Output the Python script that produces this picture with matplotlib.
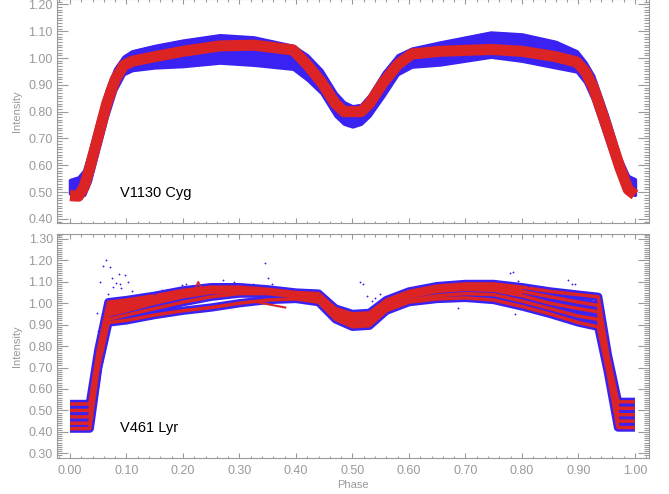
import numpy as np
import matplotlib.pyplot as plt
from matplotlib.ticker import MultipleLocator

plt.rcParams['font.family'] = ['Liberation Sans', 'DejaVu Sans']

# colours
BLUE = '#3a22f2'
RED = '#dc2424'
GREY = '#9a9a9a'

# ---- V1130 Cyg (top panel) ----
phase1 = [0.000, 0.015, 0.025, 0.035, 0.050, 0.065, 0.080, 0.095, 0.110, 0.150,
          0.200, 0.265, 0.325, 0.395, 0.420, 0.445, 0.470, 0.485, 0.500, 0.515,
          0.530, 0.555, 0.580, 0.605, 0.655, 0.745, 0.800, 0.860, 0.897, 0.912,
          0.926, 0.950, 0.973, 0.988, 1.000]
model1 = [0.487, 0.485, 0.520, 0.590, 0.710, 0.830, 0.920, 0.972, 0.988, 1.005,
          1.025, 1.045, 1.048, 1.030, 0.975, 0.910, 0.830, 0.800, 0.800, 0.800,
          0.830, 0.910, 0.975, 1.015, 1.025, 1.032, 1.025, 1.005, 0.985, 0.950,
          0.893, 0.744, 0.594, 0.510, 0.490]
obs1_hi = [0.545, 0.555, 0.580, 0.650, 0.770, 0.880, 0.960, 1.005, 1.025, 1.045,
           1.065, 1.085, 1.077, 1.045, 1.010, 0.955, 0.870, 0.835, 0.820, 0.825,
           0.860, 0.945, 1.010, 1.035, 1.058, 1.095, 1.088, 1.060, 1.025, 0.985,
           0.935, 0.790, 0.630, 0.560, 0.548]
obs1_lo = [0.495, 0.490, 0.490, 0.540, 0.660, 0.780, 0.880, 0.940, 0.955, 0.965,
           0.970, 0.983, 0.975, 0.960, 0.920, 0.870, 0.785, 0.755, 0.745, 0.755,
           0.785, 0.860, 0.940, 0.968, 0.976, 1.005, 0.990, 0.965, 0.950, 0.910,
           0.845, 0.695, 0.557, 0.500, 0.490]

# ---- V461 Lyr (bottom panel) ----
phase2 = [0.000, 0.035, 0.050, 0.068, 0.100, 0.150, 0.200, 0.250, 0.300, 0.350,
          0.400, 0.440, 0.470, 0.500, 0.530, 0.560, 0.600, 0.650, 0.700, 0.750,
          0.800, 0.850, 0.900, 0.935, 0.952, 0.970, 1.000]
curve_a = [0.530, 0.530, 0.780, 1.005, 1.015, 1.035, 1.060, 1.075, 1.075, 1.065,
           1.050, 1.045, 0.975, 0.950, 0.955, 1.015, 1.055, 1.080, 1.090, 1.090,
           1.075, 1.055, 1.040, 1.030, 0.760, 0.540, 0.540]
curve_b = [0.500, 0.500, 0.750, 0.965, 0.985, 1.020, 1.045, 1.060, 1.065, 1.055,
           1.040, 1.030, 0.960, 0.935, 0.940, 1.000, 1.040, 1.065, 1.075, 1.075,
           1.055, 1.030, 1.005, 0.990, 0.740, 0.510, 0.510]
curve_c = [0.470, 0.470, 0.730, 0.945, 0.965, 1.000, 1.030, 1.050, 1.055, 1.050,
           1.035, 1.025, 0.945, 0.915, 0.920, 0.990, 1.030, 1.055, 1.065, 1.060,
           1.035, 1.000, 0.975, 0.960, 0.720, 0.480, 0.480]
curve_d = [0.440, 0.440, 0.710, 0.925, 0.945, 0.975, 1.005, 1.030, 1.045, 1.045,
           1.030, 1.015, 0.935, 0.900, 0.905, 0.975, 1.015, 1.035, 1.045, 1.040,
           1.010, 0.975, 0.940, 0.925, 0.700, 0.450, 0.450]
curve_e = [0.415, 0.415, 0.700, 0.910, 0.920, 0.945, 0.965, 0.980, 1.000, 1.015,
           1.020, 1.005, 0.925, 0.890, 0.895, 0.965, 1.005, 1.020, 1.025, 1.015,
           0.985, 0.950, 0.910, 0.890, 0.680, 0.420, 0.420]
curves2 = [curve_a, curve_b, curve_c, curve_d, curve_e]

# stray observed points
out_phase = [0.063, 0.059, 0.070, 0.053, 0.075, 0.086, 0.097, 0.081, 0.088, 0.103,
             0.068, 0.077, 0.091, 0.109, 0.127, 0.150, 0.162, 0.198, 0.047, 0.050,
             0.062, 0.206, 0.271, 0.290, 0.307, 0.324, 0.345, 0.351, 0.357, 0.514,
             0.519, 0.525, 0.534, 0.540, 0.549, 0.687, 0.779, 0.785, 0.793, 0.802,
             0.811, 0.788, 0.882, 0.888, 0.894, 0.926]
out_int = [1.200, 1.175, 1.167, 1.100, 1.120, 1.136, 1.133, 1.094, 1.089, 1.097,
           1.045, 1.077, 1.070, 1.058, 1.045, 1.045, 1.061, 1.086, 0.956, 0.870,
           0.995, 1.092, 1.108, 1.100, 1.089, 1.092, 1.186, 1.120, 1.089, 1.100,
           1.089, 1.034, 1.011, 1.026, 1.042, 0.980, 1.143, 1.148, 1.105, 1.089,
           1.081, 0.951, 1.108, 1.089, 1.089, 1.050]
stray_phase = [0.319, 0.381]
stray_int = [1.011, 0.980]
spike_phase = [0.220, 0.227, 0.234]
spike_int = [1.060, 1.100, 1.062]

fig = plt.figure(figsize=(6.69, 4.94), dpi=100)
ax1 = fig.add_axes([0.0852, 0.5486, 0.885, 0.4534])
ax2 = fig.add_axes([0.0852, 0.0729, 0.885, 0.4534])


def style(ax, ylo, yhi):
    ax.set_xlim(-0.023, 1.025)
    ax.set_ylim(ylo, yhi)
    ax.xaxis.set_major_locator(MultipleLocator(0.1))
    ax.xaxis.set_minor_locator(MultipleLocator(0.02))
    ax.yaxis.set_major_locator(MultipleLocator(0.1))
    ax.yaxis.set_minor_locator(MultipleLocator(0.01))
    ax.yaxis.set_major_formatter(lambda v, p: f'{v:.2f}')
    ax.xaxis.set_major_formatter(lambda v, p: f'{v:.2f}')
    ax.tick_params(which='both', direction='in', top=True, right=True,
                   colors=GREY, labelcolor=GREY, labelsize=9, width=0.8)
    ax.tick_params(axis='y', which='major', length=8, pad=3)
    ax.tick_params(axis='y', which='minor', length=3.5)
    ax.tick_params(axis='x', which='major', length=3.5, pad=5)
    ax.tick_params(axis='x', which='minor', length=1.8)
    for s in ax.spines.values():
        s.set_color(GREY)
        s.set_linewidth(0.8)
    ax.set_ylabel('Intensity', color=GREY, fontsize=8, labelpad=5)


# top panel
style(ax1, 0.385, 1.22)
ax1.tick_params(axis='x', labelbottom=False)
ax1.fill_between(phase1, obs1_lo, obs1_hi, color=BLUE, lw=2.5, edgecolor=BLUE)
ax1.plot(phase1, obs1_hi, color=BLUE, lw=1.0, ls=(0, (2, 1.5)))
ax1.plot(phase1, model1, color=RED, lw=8, solid_capstyle='butt')
ax1.text(0.088, 0.497, 'V1130 Cyg', fontsize=10.5, va='center')

# bottom panel
style(ax2, 0.278, 1.323)
ax2.set_xlabel('Phase', color=GREY, fontsize=8, labelpad=2)
for c in curves2:
    ax2.plot(phase2, c, color=BLUE, lw=6, solid_capstyle='butt', zorder=2)
red_part = [0.035 <= p < 0.82 or 0.935 <= p <= 0.97 for p in phase2]
ax2.fill_between(phase2, curve_c, curve_a, where=red_part, color=RED, lw=0,
                 zorder=2.5)
for c in curves2:
    ax2.plot(phase2, c, color=RED, lw=2.5, solid_capstyle='butt', zorder=3)
ax2.plot(stray_phase, stray_int, color=RED, lw=1.5, zorder=3)
ax2.plot(spike_phase, spike_int, color=RED, lw=1.2, zorder=3)
ax2.scatter(out_phase, out_int, s=2, color=BLUE, marker='+', lw=0.6, zorder=3)
ax2.text(0.088, 0.42, 'V461 Lyr', fontsize=10.5, va='center')

fig.savefig('out.png', dpi=100)
